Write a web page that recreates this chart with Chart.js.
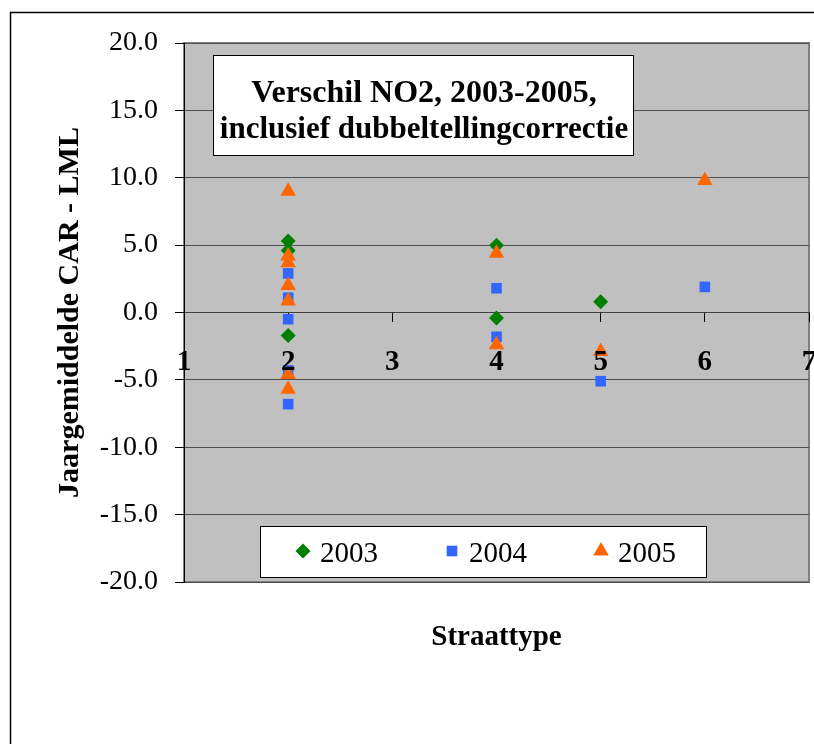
<!DOCTYPE html>
<html>
<head>
<meta charset="utf-8">
<script src="https://cdn.jsdelivr.net/npm/chart.js@4.4.0/dist/chart.umd.min.js"></script>
<style>
  html, body { margin: 0; padding: 0; background: #fff; }
</style>
</head>
<body>
<canvas id="grafico" width="814" height="744"></canvas>
<script>
// Dados (straattype x verschil CAR - LML)
const straat2003 = [2, 2, 2, 4, 4, 5];
const verschil2003 = [5.3, 4.6, -1.7, 5.0, -0.4, 0.8];

const straat2004 = [2, 2, 2, 2, 2, 4, 4, 5, 6];
const verschil2004 = [2.9, 1.1, -0.5, -4.3, -6.8, 1.8, -1.8, -5.1, 1.9];

const straat2005 = [2, 2, 2, 2, 2, 2, 2, 4, 4, 5, 6];
const verschil2005 = [9.0, 4.2, 3.7, 2.0, 0.85, -4.6, -5.7, 4.4, -2.4, -2.9, 9.8];

const jaren = ['2003', '2004', '2005'];
const titelRegels = ['Verschil NO2, 2003-2005,', 'inclusief dubbeltellingcorrectie'];

const serif = '"Liberation Serif", "Times New Roman", serif';
Chart.defaults.font.family = serif;

function paren(xs, ys) {
    return xs.map((x, i) => ({ x: x, y: ys[i] }));
}

// Moldura, fundo cinza, caixa de título, legenda e título do eixo x
const moldura = {
    id: 'moldura',
    beforeDraw(chart) {
        const { ctx, chartArea: a } = chart;
        ctx.save();
        ctx.fillStyle = '#fff';
        ctx.fillRect(0, 0, chart.width, chart.height);
        ctx.strokeStyle = '#000';
        ctx.lineWidth = 1.5;
        ctx.beginPath();
        ctx.moveTo(10.5, chart.height);
        ctx.lineTo(10.5, 12.5);
        ctx.lineTo(chart.width, 12.5);
        ctx.stroke();
        ctx.fillStyle = '#c0c0c0';
        ctx.fillRect(a.left, a.top, a.width, a.height);
        // borda cinza da área do gráfico
        ctx.strokeStyle = '#808080';
        ctx.lineWidth = 2;
        ctx.strokeRect(a.left, a.top, a.width, a.height);
        ctx.restore();
    },
    afterDraw(chart) {
        const { ctx, chartArea: a } = chart;
        ctx.save();

        // caixa do título
        ctx.fillStyle = '#fff';
        ctx.fillRect(213, 55, 420, 100);
        ctx.strokeStyle = '#000';
        ctx.lineWidth = 1;
        ctx.strokeRect(213.5, 55.5, 420, 100);
        ctx.fillStyle = '#000';
        ctx.font = 'bold 32px ' + serif;
        ctx.textAlign = 'center';
        ctx.textBaseline = 'alphabetic';
        ctx.fillText(titelRegels[0], 424, 102);
        ctx.font = 'bold 31px ' + serif;
        ctx.fillText(titelRegels[1], 424, 138);

        // legenda
        ctx.fillStyle = '#fff';
        ctx.fillRect(260, 526, 446, 51);
        ctx.strokeRect(260.5, 526.5, 446, 51);
        ctx.font = '29px ' + serif;
        ctx.textAlign = 'left';
        chart.data.datasets.forEach((ds, i) => {
            const mx = 303 + i * 149;
            ctx.fillStyle = ds.backgroundColor;
            Chart.helpers.drawPoint(ctx, {
                pointStyle: ds.pointStyle,
                radius: ds.pointRadius,
                rotation: 0,
                borderWidth: 0
            }, mx, 551);
            ctx.fillStyle = '#000';
            ctx.fillText(ds.label, mx + 17, 562);
        });

        // título do eixo x
        ctx.font = 'bold 29px ' + serif;
        ctx.textAlign = 'center';
        ctx.fillText('Straattype', (a.left + a.right) / 2, 645);
        ctx.restore();
    }
};

new Chart(document.getElementById('grafico'), {
    type: 'scatter',
    data: {
        datasets: [
            {
                label: jaren[0],
                data: paren(straat2003, verschil2003),
                pointStyle: 'rectRot',
                pointRadius: 7.5,
                backgroundColor: '#008000',
                borderWidth: 0,
                order: 2
            },
            {
                label: jaren[1],
                data: paren(straat2004, verschil2004),
                pointStyle: 'rect',
                pointRadius: 7.5,
                backgroundColor: '#3366ff',
                borderWidth: 0,
                order: 1
            },
            {
                label: jaren[2],
                data: paren(straat2005, verschil2005),
                pointStyle: 'triangle',
                pointRadius: 9,
                backgroundColor: '#ff6600',
                borderWidth: 0,
                order: 0
            }
        ]
    },
    options: {
        responsive: false,
        animation: false,
        layout: {
            autoPadding: false,
            padding: { left: 10, top: 43, right: 5, bottom: 162 }
        },
        plugins: {
            legend: { display: false },
            tooltip: { enabled: false }
        },
        scales: {
            x: {
                type: 'linear',
                position: { y: 0 },
                min: 1,
                max: 7,
                ticks: {
                    stepSize: 1,
                    color: '#000',
                    padding: 24,
                    z: 1,
                    font: { size: 29, weight: 'bold' }
                },
                grid: {
                    drawOnChartArea: false,
                    drawTicks: true,
                    tickLength: 9,
                    tickColor: '#000'
                },
                border: { color: '#404040', width: 1 },
                afterFit(scale) {
                    scale.paddingLeft = 0;
                    scale.paddingRight = 0;
                }
            },
            y: {
                min: -20,
                max: 20,
                ticks: {
                    stepSize: 5,
                    color: '#000',
                    padding: 17,
                    font: { size: 28 },
                    callback: (v) => v.toFixed(1)
                },
                grid: {
                    color: '#505050',
                    tickLength: 9,
                    tickColor: '#000'
                },
                border: { color: '#000', width: 1 },
                title: {
                    display: true,
                    text: 'Jaargemiddelde CAR - LML',
                    color: '#000',
                    font: { size: 30, weight: 'bold' },
                    padding: { top: 42, bottom: 0 }
                },
                afterFit(scale) {
                    scale.width = 174;
                }
            }
        }
    },
    plugins: [moldura]
});
</script>
</body>
</html>
